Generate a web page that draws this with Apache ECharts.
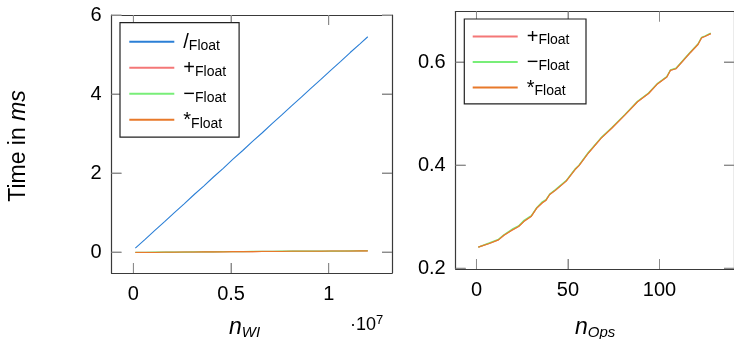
<!DOCTYPE html>
<html><head><meta charset="utf-8">
<script src="https://cdn.jsdelivr.net/npm/echarts@6/dist/echarts.min.js"></script>
<style>html,body{margin:0;padding:0;background:#fff}#c{width:734px;height:339px}</style>
</head><body><div id="c"></div>
<script>
// ---- Left plot data (n_WI, time in ms) ----
const nWI = [100000, 600000, 1100000, 1600000, 2100000, 2600000, 3100000, 3600000, 4100000, 4600000,
  5100000, 5600000, 6100000, 6600000, 7100000, 7600000, 8100000, 8600000, 9100000, 9600000,
  10100000, 10600000, 11100000, 11600000, 12000000];
const divLeft = [0.10, 0.32, 0.55, 0.77, 1.00, 1.22, 1.45, 1.67, 1.90, 2.12,
  2.35, 2.57, 2.80, 3.02, 3.25, 3.47, 3.70, 3.92, 4.15, 4.37,
  4.60, 4.82, 5.05, 5.27, 5.45];
const addLeft = [-0.01, -0.01, -0.01, -0.005, 0.0, 0.0, 0.0, 0.005, 0.005, 0.01,
  0.01, 0.01, 0.01, 0.015, 0.015, 0.015, 0.02, 0.02, 0.02, 0.02,
  0.025, 0.025, 0.025, 0.03, 0.03];
const subLeft = [-0.01, -0.01, -0.005, -0.005, 0.0, 0.0, 0.005, 0.005, 0.005, 0.01,
  0.01, 0.01, 0.015, 0.015, 0.015, 0.02, 0.02, 0.02, 0.02, 0.025,
  0.025, 0.025, 0.03, 0.03, 0.035];
const mulLeft = [-0.01, -0.01, -0.01, -0.005, -0.005, 0.0, 0.0, 0.005, 0.005, 0.005,
  0.01, 0.01, 0.01, 0.015, 0.015, 0.015, 0.02, 0.02, 0.02, 0.02,
  0.025, 0.025, 0.025, 0.03, 0.03];

// ---- Right plot data (n_Ops, time in ms) ----
const nOps = [1, 7, 12, 15, 20, 23, 26, 30, 33, 36, 38, 40, 43, 49, 54, 56, 61, 68, 74, 81,
  88, 94, 99, 104, 106, 109, 113, 117, 121, 123, 125, 128];
const addRight = [0.241, 0.248, 0.255, 0.264, 0.275, 0.281, 0.291, 0.301, 0.317, 0.327, 0.332, 0.343, 0.351, 0.369, 0.392, 0.399, 0.423, 0.452, 0.472, 0.497,
  0.523, 0.539, 0.558, 0.571, 0.584, 0.587, 0.603, 0.619, 0.634, 0.647, 0.650, 0.655];
const subRight = [0.241, 0.249, 0.256, 0.265, 0.277, 0.282, 0.293, 0.302, 0.318, 0.329, 0.333, 0.344, 0.352, 0.370, 0.393, 0.400, 0.424, 0.453, 0.473, 0.498,
  0.524, 0.540, 0.559, 0.572, 0.585, 0.588, 0.604, 0.620, 0.635, 0.648, 0.651, 0.656];
const mulRight = [0.241, 0.248, 0.255, 0.264, 0.275, 0.281, 0.291, 0.301, 0.317, 0.327, 0.332, 0.343, 0.351, 0.369, 0.392, 0.399, 0.423, 0.452, 0.472, 0.497,
  0.523, 0.539, 0.558, 0.571, 0.584, 0.587, 0.603, 0.619, 0.634, 0.647, 0.650, 0.655];

// ---- Ticks ----
const xTicksLeft = [0, 5000000, 10000000];
const yTicksLeft = [0, 2, 4, 6];
const xTicksRight = [0, 50, 100];
const yTicksRight = [0.2, 0.4, 0.6];

const names = ['/Float', '+Float', '\u2212Float', '*Float'];
const colors = ['#2b7fd6', '#f47777', '#78ee78', '#e8792a'];

const FONT = 'Liberation Sans, Arial, sans-serif';
const TICK = '#8c8c8c';
const XL = [-1120000, 13240000], YL = [-0.53, 6], XR = [-11.35, 140.7], YR = [0.1985, 0.698];
const zip = (xs, ys) => xs.map((x, i) => [x, ys[i]]);

function axis(grid, pos, range, ticks, fmt) {
  const o = {
    type: 'value', gridIndex: grid, position: pos, min: range[0], max: range[1],
    axisLine: { show: true, onZero: false, lineStyle: { color: '#3a3a3a', width: 1.2 } },
    splitLine: { show: false },
    axisTick: { show: true, inside: true, length: 10, customValues: ticks.slice(), lineStyle: { color: TICK, width: 1 } },
    axisLabel: { show: !!fmt, customValues: ticks.slice(), fontSize: 20 }
  };
  if (fmt) {
    o.axisLabel.formatter = fmt;
    o.axisLabel.margin = (pos === 'bottom') ? 11 : 10;
    o.axisLabel.fontFamily = FONT;
    o.axisLabel.color = '#000';
  }
  return o;
}
function line(name, xi, yi, data, color, w) {
  return { type: 'line', name: name, xAxisIndex: xi, yAxisIndex: yi, data: data,
    showSymbol: false, symbol: 'none', animation: false,
    lineStyle: { color: color, width: w }, itemStyle: { color: color } };
}

const legendRich = {
  op: { fontFamily: FONT, fontSize: 20, lineHeight: 22, verticalAlign: 'bottom', color: '#000', padding: [0, 0, 0, 4] },
  sub: { fontFamily: FONT, fontSize: 14, lineHeight: 18, verticalAlign: 'bottom', color: '#000' }
};
const legendFmt = n => '{op|' + n.charAt(0) + '}{sub|' + n.slice(1) + '}';

const texts = [
  { type: 'text', x: 18.5, y: 146, rotation: Math.PI / 2,
    style: { text: '{a|Time in }{b|ms}', align: 'center', verticalAlign: 'middle',
      rich: { a: { fontFamily: FONT, fontSize: 23, fill: '#000' }, b: { fontFamily: FONT, fontSize: 23, fontStyle: 'italic', fill: '#000' } } } },
  { type: 'text', x: 229, y: 340,
    style: { text: '{n|n}{s|WI}', align: 'left', verticalAlign: 'bottom',
      rich: { n: { fontFamily: FONT, fontSize: 23, fontStyle: 'italic', fill: '#000', lineHeight: 24, verticalAlign: 'top' },
              s: { fontFamily: FONT, fontSize: 15, fontStyle: 'italic', fill: '#000', lineHeight: 16, verticalAlign: 'bottom' } } } },
  { type: 'text', x: 350, y: 334,
    style: { text: '{a|\u00b710}{b|7}', align: 'left', verticalAlign: 'bottom',
      rich: { a: { fontFamily: FONT, fontSize: 18, fill: '#000', lineHeight: 20, verticalAlign: 'bottom' },
              b: { fontFamily: FONT, fontSize: 13, fill: '#000', lineHeight: 20, verticalAlign: 'top' } } } },
  { type: 'text', x: 575, y: 340,
    style: { text: '{n|n}{s|Ops}', align: 'left', verticalAlign: 'bottom',
      rich: { n: { fontFamily: FONT, fontSize: 23, fontStyle: 'italic', fill: '#000', lineHeight: 24, verticalAlign: 'top' },
              s: { fontFamily: FONT, fontSize: 15, fontStyle: 'italic', fill: '#000', lineHeight: 16, verticalAlign: 'bottom' } } } }
];

const chart = echarts.init(document.getElementById('c'));
chart.setOption({
  animation: false,
  grid: [
    { left: 111.5, top: 15, width: 280.5, height: 258 },
    { left: 455.7, top: 11.5, width: 281, height: 257.5 }
  ],
  xAxis: [
    axis(0, 'bottom', XL, xTicksLeft, v => String(v / 1e7)),
    axis(0, 'top', XL, xTicksLeft, null),
    axis(1, 'bottom', XR, xTicksRight, v => String(v)),
    axis(1, 'top', XR, xTicksRight, null)
  ],
  yAxis: [
    axis(0, 'left', YL, yTicksLeft, v => String(v)),
    axis(0, 'right', YL, yTicksLeft, null),
    axis(1, 'left', YR, yTicksRight, v => v.toFixed(1)),
    axis(1, 'right', YR, yTicksRight, null)
  ],
  legend: [
    { data: names, left: 120, top: 22.7, orient: 'vertical', icon: 'rect', itemWidth: 45, itemHeight: 2,
      itemGap: 6, padding: [10, 13, 6.5, 9.3], backgroundColor: '#fff', borderColor: '#222', borderWidth: 1.2,
      borderRadius: 0, selectedMode: false, formatter: legendFmt, textStyle: { rich: legendRich } },
    { data: names.slice(1), left: 464.3, top: 19, orient: 'vertical', icon: 'rect', itemWidth: 45, itemHeight: 2,
      itemGap: 5.5, padding: [8.4, 16.5, 5.5, 8.4], backgroundColor: '#fff', borderColor: '#222', borderWidth: 1.2,
      borderRadius: 0, selectedMode: false, formatter: legendFmt, textStyle: { rich: legendRich } }
  ],
  series: [
    line(names[0], 0, 0, zip(nWI, divLeft), colors[0], 1.1),
    line(names[1], 0, 0, zip(nWI, addLeft), colors[1], 1.3),
    line(names[2], 0, 0, zip(nWI, subLeft), colors[2], 1.3),
    line(names[3], 0, 0, zip(nWI, mulLeft), colors[3], 1.1),
    line(names[1], 2, 2, zip(nOps, addRight), colors[1], 1.3),
    line(names[2], 2, 2, zip(nOps, subRight), colors[2], 1.3),
    line(names[3], 2, 2, zip(nOps, mulRight), colors[3], 1.2)
  ],
  graphic: texts
});

// Inward tick marks on all four frame sides, placed through the axes' own scales (convertToPixel).
function tickLines(xi, yi, xTicks, yTicks, xr, yr) {
  const f = { xAxisIndex: xi, yAxisIndex: yi };
  const st = { stroke: TICK, lineWidth: 1 };
  const out = [];
  xTicks.forEach(function (v) {
    const b = chart.convertToPixel(f, [v, yr[0]]), t = chart.convertToPixel(f, [v, yr[1]]);
    out.push({ type: 'line', z: 3, silent: true, shape: { x1: b[0], y1: b[1], x2: b[0], y2: b[1] - 10 }, style: st });
    out.push({ type: 'line', z: 3, silent: true, shape: { x1: t[0], y1: t[1], x2: t[0], y2: t[1] + 10 }, style: st });
  });
  yTicks.forEach(function (v) {
    const l = chart.convertToPixel(f, [xr[0], v]), r = chart.convertToPixel(f, [xr[1], v]);
    out.push({ type: 'line', z: 3, silent: true, shape: { x1: l[0], y1: l[1], x2: l[0] + 10, y2: l[1] }, style: st });
    out.push({ type: 'line', z: 3, silent: true, shape: { x1: r[0], y1: r[1], x2: r[0] - 10, y2: r[1] }, style: st });
  });
  return out;
}
const ticks = tickLines(0, 0, xTicksLeft, yTicksLeft, XL, YL)
  .concat(tickLines(2, 2, xTicksRight, yTicksRight, XR, YR));
chart.setOption({ graphic: texts.concat(ticks) });
</script>
</body></html>
